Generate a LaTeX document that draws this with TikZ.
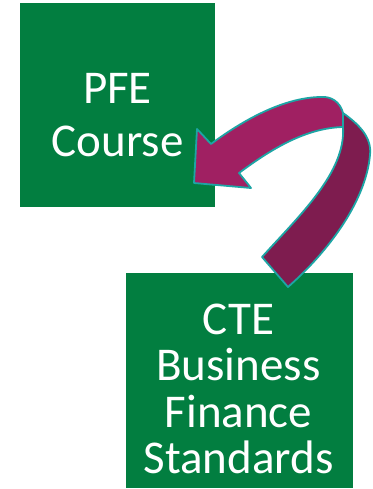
\documentclass[tikz,border=0pt]{standalone}
\usepackage{fontspec}
\setmainfont{Carlito}
\definecolor{boxgreen}{HTML}{027E40}
\definecolor{ribbonfront}{HTML}{A02062}
\definecolor{ribbonback}{HTML}{7E1C4F}
\definecolor{ribbonedge}{HTML}{1DA5A5}
\tikzset{
  greenbox/.style={fill=boxgreen, draw=none, inner sep=0pt},
  boxtext/.style={text=white, align=center, inner sep=0pt},
  ribbon/.style={draw=ribbonedge, line width=1.8pt, line join=round}
}
\begin{document}
\begin{tikzpicture}[x=1pt,y=-1pt]
\useasboundingbox (0,0) rectangle (372,489);
% boxes
\node[greenbox, minimum width=195pt, minimum height=204pt] (pfe) at (117.5,105) {};
\node[greenbox, minimum width=227pt, minimum height=215pt] (cte) at (239.5,380.5) {};
% texts
\node[boxtext, font=\fontsize{47}{53}\selectfont, anchor=center] (pfetext) at (117.5,115) {PFE\\Course};
\node[boxtext, font=\fontsize{47}{46.5}\selectfont, anchor=center] (ctetext) at (238.5,389) {CTE\\Business\\Finance\\Standards};
% ribbon arrow: back (dark) part
\fill[ribbonback] (343,113) .. controls (360,125) and (372,138) .. (370,155)
  .. controls (366,200) and (330,250) .. (288,287)
  -- (262,257)
  .. controls (300,215) and (346,172) .. (343,127) -- cycle;
\draw[ribbon] (343,113) .. controls (360,125) and (372,138) .. (370,155)
  .. controls (366,200) and (330,250) .. (288,287)
  -- (262,257)
  .. controls (300,215) and (346,172) .. (343,127);
% front part with head
\filldraw[ribbon, fill=ribbonfront] (194,183) -- (197,129) -- (211,144)
  .. controls (250,115) and (290,96) .. (325,97)
  .. controls (335,98) and (341,105) .. (343,113)
  -- (343,127)
  .. controls (305,128) and (270,150) .. (239,173)
  -- (251,188) -- cycle;
\end{tikzpicture}
\end{document}
